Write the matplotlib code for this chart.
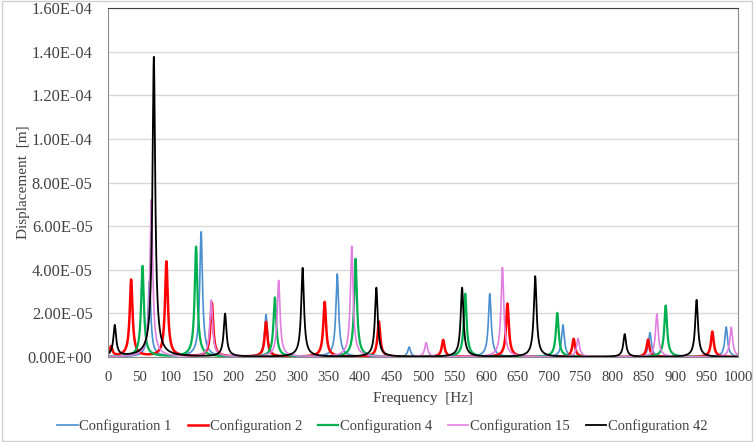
import numpy as np
import matplotlib
matplotlib.use('Agg')
import matplotlib.pyplot as plt
from matplotlib.ticker import FuncFormatter, MultipleLocator
from matplotlib.patches import Rectangle

plt.rcParams['font.family'] = ['Liberation Serif', 'DejaVu Serif']

series_names = ['Configuration 1', 'Configuration 2', 'Configuration 4',
                'Configuration 15', 'Configuration 42']
colors = ['#4A8FD0', '#FF0000', '#00B050', '#E07FE0', '#000000']
linewidths = [1.2, 1.8, 1.6, 1.2, 1.3]

# resonance peaks: frequency [Hz], peak displacement [m]
cfg1_freq = [66, 148, 251, 364, 478, 606, 722, 860, 981]
cfg1_amp = [3.45e-5, 5.73e-5, 1.93e-5, 3.80e-5, 0.45e-5, 2.90e-5, 1.47e-5, 1.12e-5, 1.38e-5]

cfg2_freq = [5, 37, 93, 165, 251, 344, 430, 532, 634, 739, 857, 959]
cfg2_amp = [0.45e-5, 3.53e-5, 4.36e-5, 2.47e-5, 1.60e-5, 2.52e-5, 1.62e-5, 0.78e-5,
            2.45e-5, 0.83e-5, 0.80e-5, 1.17e-5]

cfg4_freq = [55, 140, 265, 393, 567, 713, 885]
cfg4_amp = [4.17e-5, 5.05e-5, 2.72e-5, 4.50e-5, 2.90e-5, 2.02e-5, 2.36e-5]

cfg15_freq = [69, 164, 271, 387, 505, 626, 746, 871, 989]
cfg15_amp = [7.20e-5, 2.60e-5, 3.50e-5, 5.07e-5, 0.65e-5, 4.10e-5, 0.85e-5, 1.97e-5, 1.37e-5]

cfg42_freq = [11, 73, 186, 309, 426, 562, 678, 820, 934]
cfg42_amp = [1.42e-5, 13.75e-5, 1.97e-5, 4.08e-5, 3.17e-5, 3.17e-5, 3.70e-5, 1.05e-5, 2.62e-5]

peak_freqs = [cfg1_freq, cfg2_freq, cfg4_freq, cfg15_freq, cfg42_freq]
peak_amps = [cfg1_amp, cfg2_amp, cfg4_amp, cfg15_amp, cfg42_amp]

x_ticks = list(range(0, 1001, 50))
half_width = 2.4  # Hz
skirt_power = 0.85

freq = np.linspace(0, 1000, 10001)


def response(fr, amps):
    total = np.zeros_like(freq)
    for f0, a in zip(fr, amps):
        total += a / (1.0 + ((freq - f0) / half_width) ** 2) ** skirt_power
    return total


fig = plt.figure(figsize=(7.54, 4.42), dpi=100)
ax = fig.add_axes([0.143, 0.192, 0.836, 0.790])

for name, c, lw, fr, am in zip(series_names, colors, linewidths, peak_freqs, peak_amps):
    ax.plot(freq, response(fr, am), color=c, lw=lw, label=name)

ax.set_xlim(0, 1000)
ax.set_ylim(0, 1.6e-4)
ax.set_xticks(x_ticks)
ax.yaxis.set_major_locator(MultipleLocator(2e-5))
ax.yaxis.set_major_formatter(FuncFormatter(lambda v, p: f"{v:.2E}"))
ax.grid(axis='y', color='#d9d9d9', lw=1)
ax.set_axisbelow(True)
ax.tick_params(axis='y', length=0, labelsize=11.8, colors='#404040', pad=11)
ax.tick_params(axis='x', length=0, labelsize=10.6, colors='#404040', pad=10)
for s in ['left', 'right', 'top']:
    ax.spines[s].set_color('#8c8c8c')
ax.spines['top'].set_color('#404040')
ax.spines['bottom'].set_color('#8c8c8c')

ax.set_xlabel('Frequency  [Hz]', fontsize=11, color='#404040', labelpad=6)
ax.set_ylabel('Displacement  [m]', fontsize=11, color='#404040')
ax.yaxis.set_label_coords(-0.123, 0.5)

leg = fig.legend(loc='center', bbox_to_anchor=(0.507, 0.036), ncol=5, frameon=False,
                 fontsize=10.5, handlelength=1.4, handletextpad=0.1, columnspacing=1.1)
for t in leg.get_texts():
    t.set_color('#404040')

fig.patches.append(Rectangle((0.002, 0.003), 0.995, 0.994, transform=fig.transFigure,
                             fill=False, edgecolor='#d0d0d0', lw=1))

fig.savefig('out.png', dpi=100)
